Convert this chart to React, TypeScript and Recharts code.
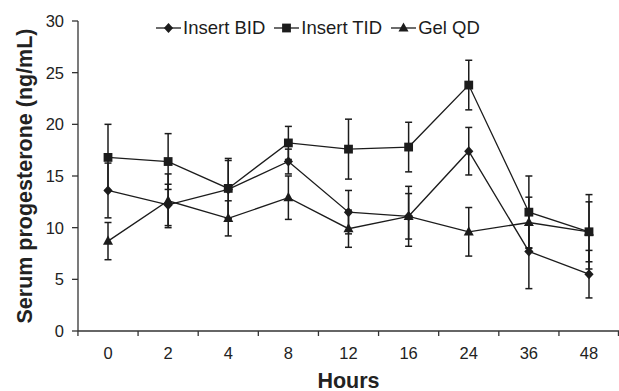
import React from "react";
import { LineChart, Line, XAxis, YAxis, ErrorBar, Legend } from "recharts";

const hours = ["0", "2", "4", "8", "12", "16", "24", "36", "48"];
const insertBid = [13.6, 12.2, 13.7, 16.4, 11.5, 11.1, 17.4, 7.7, 5.5];
const insertBidSd = [2.65, 2.0, 2.8, 1.2, 2.1, 2.9, 2.3, 3.6, 2.3];
const insertTid = [16.8, 16.4, 13.8, 18.2, 17.6, 17.8, 23.8, 11.5, 9.6];
const insertTidSd = [3.2, 2.7, 2.9, 1.6, 2.9, 2.4, 2.4, 3.5, 3.6];
const gelQd = [8.7, 12.6, 10.9, 12.9, 9.9, 11.1, 9.6, 10.5, 9.6];
const gelQdSd = [1.8, 2.6, 1.7, 2.1, 1.8, 2.2, 2.35, 2.45, 2.9];
const yTicks = [0, 5, 10, 15, 20, 25, 30];

const INK = "#1c1c1c";
const AXIS = "#333";
const FONT = "'Liberation Sans', Arial, sans-serif";
const TICK_GAP = 16;

const data = hours.map((h, i) => ({
  hour: h,
  bid: insertBid[i],
  bidSd: insertBidSd[i],
  tid: insertTid[i],
  tidSd: insertTidSd[i],
  gel: gelQd[i],
  gelSd: gelQdSd[i],
}));

const series = [
  { key: "bid", sd: "bidSd", name: "Insert BID", shape: "diamond" },
  { key: "tid", sd: "tidSd", name: "Insert TID", shape: "square" },
  { key: "gel", sd: "gelSd", name: "Gel QD", shape: "triangle" },
];

function Marker({ shape, cx, cy }: { shape: string; cx: number; cy: number }) {
  if (cx == null || cy == null) return null;
  if (shape === "diamond") {
    return (
      <polygon
        points={`${cx},${cy - 5} ${cx + 4.6},${cy} ${cx},${cy + 5} ${cx - 4.6},${cy}`}
        fill={INK}
      />
    );
  }
  if (shape === "square") {
    return <rect x={cx - 4.4} y={cy - 4.4} width={8.8} height={8.8} fill={INK} />;
  }
  return (
    <polygon
      points={`${cx},${cy - 5.6} ${cx + 5},${cy + 3.6} ${cx - 5},${cy + 3.6}`}
      fill={INK}
    />
  );
}

// hour label at the band centre, tick marks on the band edges
function HourTick(props: any) {
  const { x, y, payload, index, visibleTicksCount, width } = props;
  const half = width / (2 * visibleTicksCount);
  const axisY = y - TICK_GAP;
  const last = index === visibleTicksCount - 1;
  return (
    <g>
      <line x1={x - half} y1={axisY} x2={x - half} y2={axisY + 5} stroke={AXIS} strokeWidth={1.3} />
      {last && (
        <line x1={x + half - 0.6} y1={axisY} x2={x + half - 0.6} y2={axisY + 5} stroke={AXIS} strokeWidth={1.3} />
      )}
      <text x={x} y={y} dy="0.71em" textAnchor="middle" fontSize={16.5} fill="#222">
        {payload.value}
      </text>
    </g>
  );
}

function LegendRow() {
  return (
    <div style={{ display: "flex", alignItems: "center", fontSize: 18.5, color: INK, fontFamily: FONT }}>
      {series.map((s) => (
        <div key={s.key} style={{ display: "flex", alignItems: "center", marginRight: 9 }}>
          <svg width={25} height={12}>
            <line x1={0} y1={6} x2={25} y2={6} stroke={INK} strokeWidth={1.3} />
            <Marker shape={s.shape} cx={12.5} cy={6} />
          </svg>
          <span style={{ marginLeft: 2 }}>{s.name}</span>
        </div>
      ))}
    </div>
  );
}

export default function App() {
  return (
    <div style={{ position: "absolute", left: 0, top: 0, width: 619, height: 391, background: "#fff", fontFamily: FONT }}>
      <LineChart width={619} height={391} data={data} margin={{ top: 21, right: 0, bottom: 0, left: 0 }}>
        <XAxis
          dataKey="hour"
          height={60}
          stroke={AXIS}
          strokeWidth={1.3}
          tickLine={false}
          tickSize={0}
          tickMargin={TICK_GAP}
          interval={0}
          padding={{ left: 30, right: 30 }}
          tick={<HourTick />}
          label={{
            content: (p: any) => {
              const vb = p.viewBox;
              return (
                <text
                  x={vb.x + vb.width / 2}
                  y={vb.y + vb.height - 3}
                  textAnchor="middle"
                  fontSize={21.5}
                  fontWeight="bold"
                  fill="#222"
                >
                  Hours
                </text>
              );
            },
          }}
        />
        <YAxis
          width={78}
          domain={[0, 30]}
          ticks={yTicks}
          tickSize={6}
          tickMargin={8}
          stroke={AXIS}
          strokeWidth={1.3}
          tick={{ fontSize: 16.5, fill: "#222" }}
          label={{
            content: (p: any) => {
              const vb = p.viewBox;
              const x = vb.x + 25;
              const y = vb.y + vb.height / 2;
              return (
                <text
                  x={x}
                  y={y}
                  transform={`rotate(-90 ${x} ${y})`}
                  textAnchor="middle"
                  dominantBaseline="central"
                  fontSize={21.5}
                  fontWeight="bold"
                  fill="#222"
                >
                  Serum progesterone (ng/mL)
                </text>
              );
            },
          }}
        />
        <Legend
          verticalAlign="middle"
          align="center"
          layout="horizontal"
          content={() => <LegendRow />}
          wrapperStyle={{ left: 156, top: 17, width: "auto" }}
        />
        {series.map((s) => (
          <Line
            key={s.key}
            dataKey={s.key}
            name={s.name}
            type="linear"
            stroke={INK}
            strokeWidth={1.3}
            isAnimationActive={false}
            dot={(p: any) => <Marker key={`${s.key}-${p.index}`} shape={s.shape} cx={p.cx} cy={p.cy} />}
            activeDot={false}
          >
            <ErrorBar dataKey={s.sd} width={3.5} stroke={INK} strokeWidth={1.5} direction="y" />
          </Line>
        ))}
      </LineChart>
    </div>
  );
}
